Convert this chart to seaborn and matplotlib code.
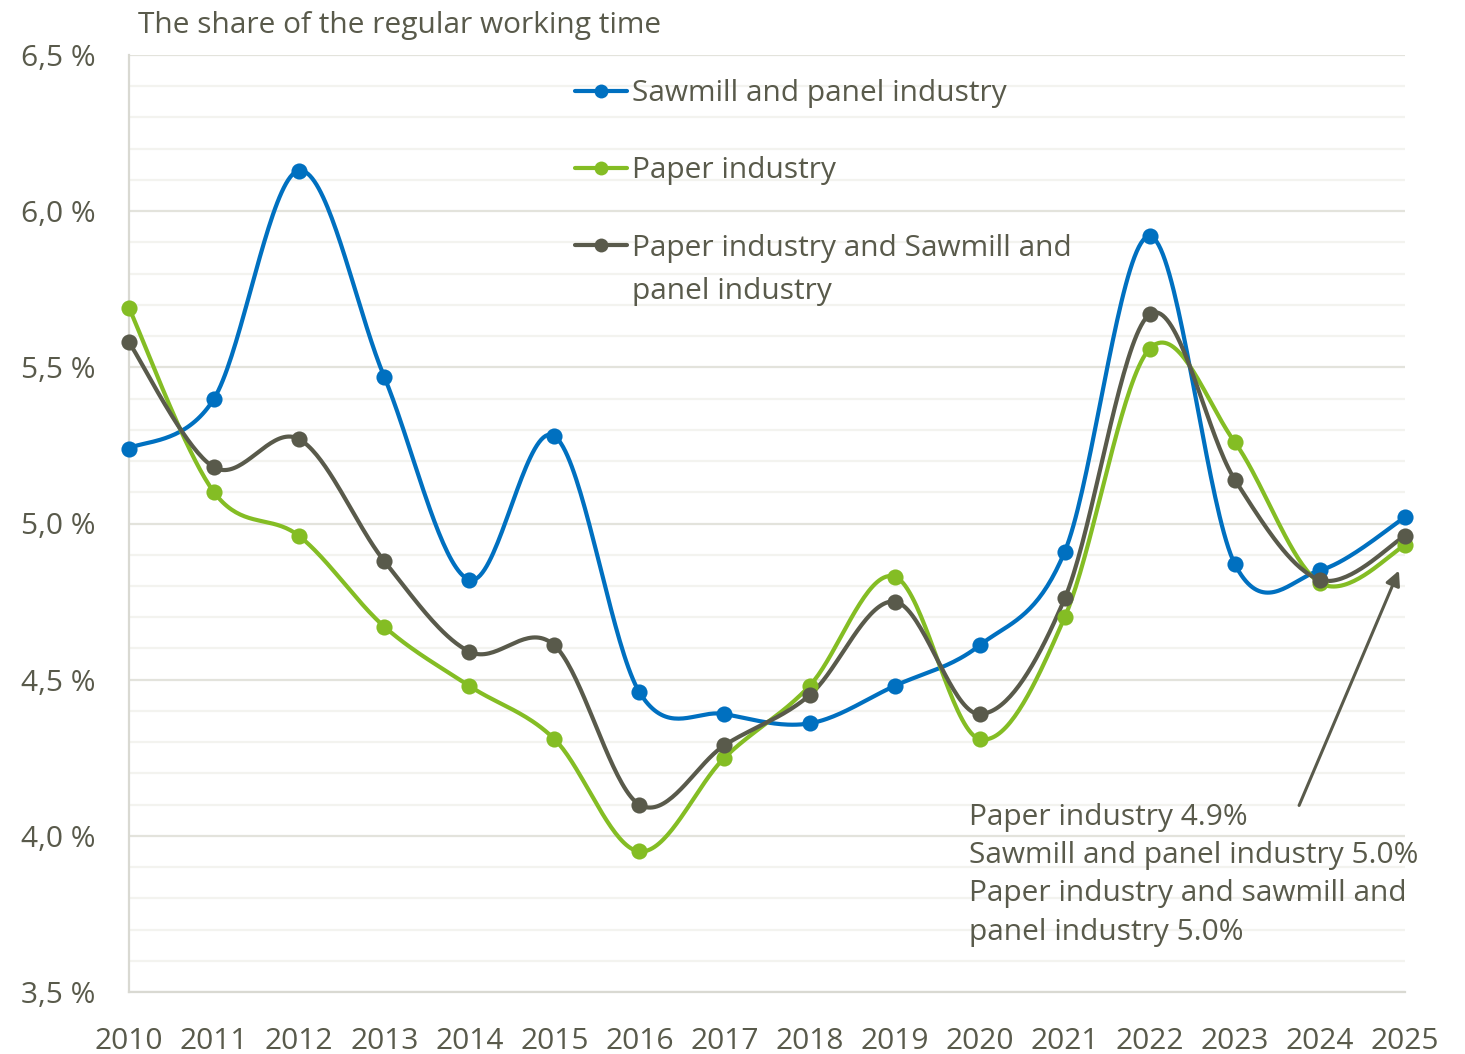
import numpy as np
import pandas as pd
import matplotlib
matplotlib.use('Agg')
import matplotlib.pyplot as plt
from matplotlib.lines import Line2D
from matplotlib.ticker import MultipleLocator, FuncFormatter
import seaborn as sns

# data (% of regular working time)
years = list(range(2010, 2026))
sawmill = [5.24, 5.40, 6.13, 5.47, 4.82, 5.28, 4.46, 4.39, 4.36, 4.48, 4.61, 4.91, 5.92, 4.87, 4.85, 5.02]
paper = [5.69, 5.10, 4.96, 4.67, 4.48, 4.31, 3.95, 4.25, 4.48, 4.83, 4.31, 4.70, 5.56, 5.26, 4.81, 4.93]
combined = [5.58, 5.18, 5.27, 4.88, 4.59, 4.61, 4.10, 4.29, 4.45, 4.75, 4.39, 4.76, 5.67, 5.14, 4.82, 4.96]

series_names = ['Sawmill and panel industry', 'Paper industry',
                'Paper industry and Sawmill and\npanel industry']
series_colors = ['#0070C0', '#84BD24', '#595A4B']
title_text = 'The share of the regular working time'
note_text = ('Paper industry 4.9%\nSawmill and panel industry 5.0%\n'
             'Paper industry and sawmill and\npanel industry 5.0%')

TEXT = '#595A4B'
W, H = 1465, 1054


def smooth(x, y, n=40):
    # excel-like smoothed line (catmull-rom via bezier segments)
    pts = np.column_stack([x, y]).astype(float)
    out = []
    for i in range(len(pts) - 1):
        p0 = pts[i - 1] if i > 0 else pts[i]
        p1, p2 = pts[i], pts[i + 1]
        p3 = pts[i + 2] if i + 2 < len(pts) else pts[i + 1]
        c1 = p1 + (p2 - p0) / 6
        c2 = p2 - (p3 - p1) / 6
        t = np.linspace(0, 1, n)[:, None]
        seg = ((1 - t) ** 3) * p1 + 3 * ((1 - t) ** 2) * t * c1 + 3 * (1 - t) * t ** 2 * c2 + t ** 3 * p2
        out.append(seg if i == 0 else seg[1:])
    seg = np.vstack(out)
    return seg[:, 0], seg[:, 1]


sns.set_theme(style='white')
plt.rcParams['font.family'] = ['Open Sans', 'DejaVu Sans']

fig = plt.figure(figsize=(W / 100, H / 100), dpi=100)
ax = fig.add_axes([129 / W, 1 - 992 / H, (1405 - 129) / W, (992 - 55) / H])

handles = []
for vals, name, col in zip([sawmill, paper, combined], series_names, series_colors):
    df = pd.DataFrame({'year': years, 'value': vals})
    sx, sy = smooth(df['year'].values, df['value'].values)
    sns.lineplot(x=sx, y=sy, sort=False, estimator=None, color=col, lw=3, ax=ax, zorder=3)
    sns.scatterplot(data=df, x='year', y='value', color=col, s=135, linewidth=0, ax=ax, zorder=4, clip_on=False)
    handles.append(Line2D([], [], color=col, lw=3, marker='o', markersize=10, markeredgewidth=0))

ax.set_xlim(2010, 2025)
ax.set_ylim(3.5, 6.5)
ax.set_xticks(years)
ax.yaxis.set_major_locator(MultipleLocator(0.5))
ax.yaxis.set_minor_locator(MultipleLocator(0.1))
ax.yaxis.set_major_formatter(FuncFormatter(lambda v, p: f'{v:.1f} %'.replace('.', ',')))
ax.grid(axis='y', which='major', color='#E3E3DC', lw=1.6)
ax.grid(axis='y', which='minor', color='#F3F3EF', lw=1.6)
ax.grid(axis='x', visible=False)
ax.set_axisbelow(True)
ax.set_xlabel('')
ax.set_ylabel('')

for s in ['top', 'right']:
    ax.spines[s].set_visible(False)
for s in ['left', 'bottom']:
    ax.spines[s].set_color('#D9D9D2')
    ax.spines[s].set_linewidth(1.6)

ax.tick_params(axis='x', direction='inout', length=17, width=1.6, color='#D9D9D2',
               labelsize=21.5, labelcolor=TEXT, pad=16.5)
ax.tick_params(axis='y', which='both', length=0, labelsize=21.5, labelcolor=TEXT, pad=24)

fig.text(138 / W, 1 - 25 / H, title_text, fontsize=21.5, color=TEXT, va='center', ha='left')

# legend: first line of each label next to the handle, wrapped remainder below
first_lines = [n.split('\n')[0] for n in series_names]
leg = ax.legend(handles, first_lines, loc='upper left', bbox_to_anchor=(575 / W, 1 - 79 / H),
                bbox_transform=fig.transFigure, frameon=False, fontsize=21.5, labelcolor=TEXT,
                handlelength=1.75, handletextpad=0.15, labelspacing=1.62, borderpad=0, borderaxespad=0)
fig.canvas.draw()
for name, txt in zip(series_names, leg.get_texts()):
    if '\n' in name:
        bb = txt.get_window_extent()
        fig.text(bb.x0 / W, (bb.y0 + bb.height / 2 - 43) / H, name.split('\n', 1)[1],
                 fontsize=21.5, color=TEXT, va='center', ha='left')

ax.annotate('', xy=(1400 / W, 1 - 568 / H), xytext=(1298 / W, 1 - 808 / H),
            xycoords='figure fraction', textcoords='figure fraction',
            arrowprops=dict(arrowstyle='-|>', color=TEXT, lw=2.2, mutation_scale=22))
fig.text(969 / W, 1 - 803 / H, note_text, fontsize=21.5, color=TEXT, va='top', ha='left',
         linespacing=1.42)

fig.savefig('out.png', dpi=100)
